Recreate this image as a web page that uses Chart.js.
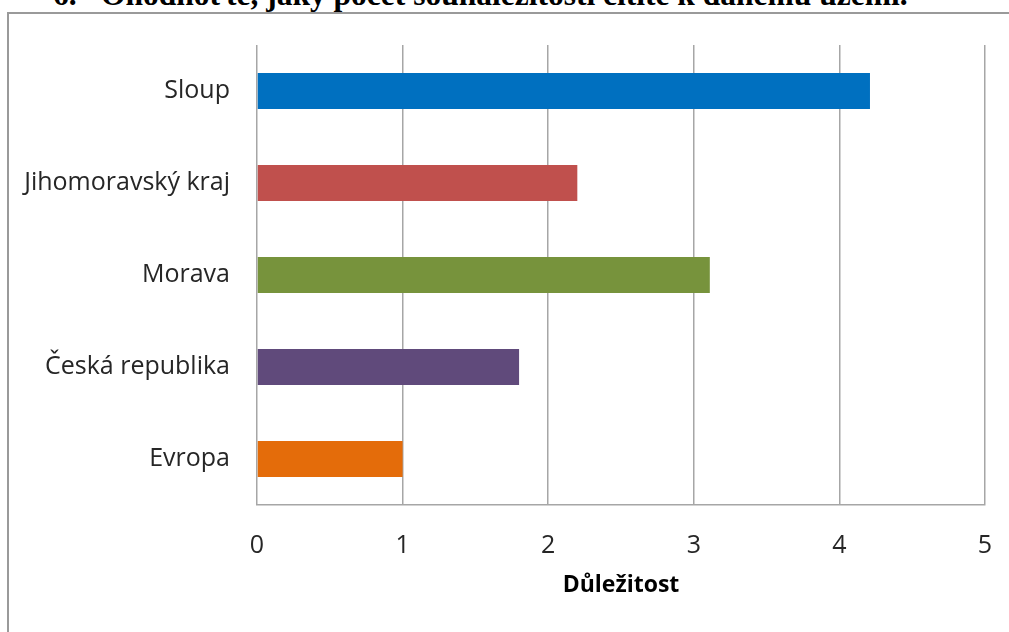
<!DOCTYPE html>
<html>
<head>
<meta charset="utf-8">
<script src="https://cdn.jsdelivr.net/npm/chart.js@4.4.1/dist/chart.umd.min.js"></script>
<style>
    html, body { margin: 0; padding: 0; background: #fff; }
    #page { position: relative; width: 1009px; height: 632px; overflow: hidden; }
    #frame {
        position: absolute; left: 7px; top: 12px; width: 1100px; height: 700px;
        border-left: 2px solid #9a9a9a; border-top: 2px solid #9a9a9a;
    }
    .title {
        position: absolute; top: -21px; line-height: 32px; white-space: nowrap;
        font-family: "Liberation Serif", "Times New Roman", serif;
        font-weight: bold; font-size: 31.5px; color: #000;
    }
    #chartBox { position: absolute; left: 0; top: 0; width: 1009px; height: 632px; }
</style>
</head>
<body>
<div id="page">
    <div id="frame"></div>
    <div class="title" style="left:53px">6.</div>
    <div class="title" style="left:101px">Ohodnoťte, jaký počet sounáležitosti cítíte k danému území.</div>
    <div id="chartBox"><canvas id="barChart"></canvas></div>
</div>
<script>
const categories = ["Sloup", "Jihomoravský kraj", "Morava", "Česká republika", "Evropa"];
const values = [4.21, 2.2, 3.11, 1.8, 1.0];
const barColors = ["#0070C0", "#C0504D", "#77933C", "#604A7B", "#E46C0A"];
const xTicks = [0, 1, 2, 3, 4, 5];
const axisTitle = "Důležitost";

const gridColor = "#a6a6a6";
const textColor = "#262626";

const ctx = document.getElementById("barChart").getContext("2d");
new Chart(ctx, {
    type: "bar",
    data: {
        labels: categories,
        datasets: [{
            data: values,
            backgroundColor: barColors,
            borderWidth: 0,
            categoryPercentage: 1,
            barPercentage: 0.39,
        }],
    },
    options: {
        indexAxis: "y",
        responsive: true,
        maintainAspectRatio: false,
        animation: false,
        layout: { padding: { left: 0, top: 45, right: 24, bottom: 0 } },
        plugins: { legend: { display: false }, tooltip: { enabled: false } },
        scales: {
            x: {
                min: xTicks[0],
                max: xTicks[xTicks.length - 1],
                afterBuildTicks: (s) => { s.ticks = xTicks.map((v) => ({ value: v })); },
                // fixed box so the plot lands where the original one is
                afterFit: (s) => { s.height = 127; s.paddingLeft = 0; s.paddingRight = 0; },
                grid: { color: gridColor, lineWidth: 1.5, drawTicks: false },
                border: { display: true, color: gridColor, width: 1.5 },
                ticks: {
                    padding: 26,
                    color: textColor,
                    font: { family: "'Open Sans'", size: 25 },
                    maxRotation: 0,
                },
                title: {
                    display: true,
                    text: axisTitle,
                    color: "#000",
                    font: { family: "'Open Sans'", size: 23, weight: "bold" },
                    padding: { top: 0, bottom: 33 },
                },
            },
            y: {
                afterFit: (s) => { s.width = 257; },
                grid: { display: false, drawTicks: false },
                border: { display: false },
                ticks: {
                    padding: 27,
                    color: textColor,
                    font: { family: "'Open Sans'", size: 25 },
                },
            },
        },
    },
});
</script>
</body>
</html>
